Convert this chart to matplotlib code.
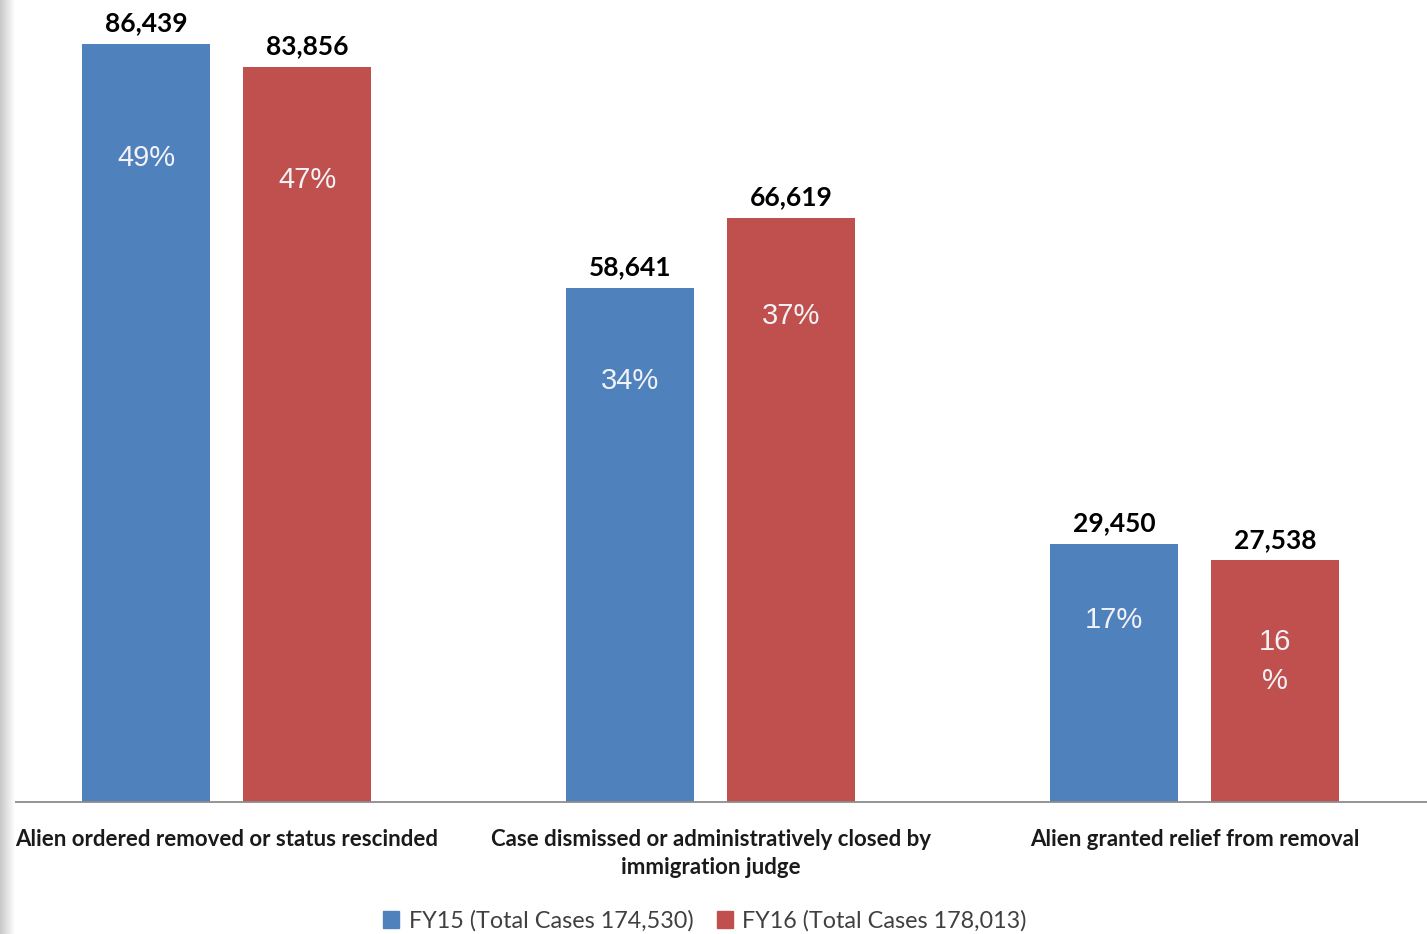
#!/usr/bin/env python3
"""Case outcomes FY15 vs FY16 - grouped bar chart."""
import matplotlib
matplotlib.use("Agg")
import matplotlib.pyplot as plt
import numpy as np
from matplotlib.patches import Patch

categories = [
    "Alien ordered removed or status rescinded",
    "Case dismissed or administratively closed by\nimmigration judge",
    "Alien granted relief from removal",
]
fy15 = [86439, 58641, 29450]
fy16 = [83856, 66619, 27538]
fy15_pct = ["49%", "34%", "17%"]
fy16_pct = ["47%", "37%", "16\n%"]
series_names = ["FY15 (Total Cases 174,530)", "FY16 (Total Cases 178,013)"]

BLUE = "#4F81BD"
RED = "#C0504D"

# inside-label offsets (points below bar top), as in the source
pct_off15 = [82, 67, 55]
pct_off16 = [82, 71, 73]


def main() -> None:
    fig = plt.figure(figsize=(14.27, 9.34), dpi=100)
    ax = fig.add_axes([0, 1 - 802 / 934, 1, 802 / 934])

    x = np.arange(len(categories))
    w = 0.2645
    off = 0.1663
    b15 = ax.bar(x - off, fy15, w, color=BLUE)
    b16 = ax.bar(x + off, fy16, w, color=RED)

    ax.set_xlim(-0.468, 2.480)
    ax.set_ylim(0, 91450)
    ax.set_yticks([])
    ax.set_xticks([])
    for s in ("top", "left", "right"):
        ax.spines[s].set_visible(False)
    ax.spines["bottom"].set_color("#8C8C8C")
    ax.spines["bottom"].set_linewidth(1.3)

    for bars, vals, pcts, offs in ((b15, fy15, fy15_pct, pct_off15),
                                   (b16, fy16, fy16_pct, pct_off16)):
        for b, v, p, o in zip(bars, vals, pcts, offs):
            cx = b.get_x() + b.get_width() / 2
            ax.annotate(f"{v:,}", (cx, v), xytext=(0, 6), textcoords="offset points",
                        ha="center", va="bottom", fontsize=19, fontweight="bold",
                        family="Lato", color="black", annotation_clip=False)
            ax.annotate(p, (cx, v), xytext=(0, -o), textcoords="offset points",
                        ha="center", va="center", fontsize=21, family="Liberation Sans",
                        color="#F2F2F7", linespacing=1.5)

    for xi, c in zip(x, categories):
        ax.text(xi, -0.034, c, transform=ax.get_xaxis_transform(), ha="center", va="top",
                fontsize=16, fontweight="bold", family="Lato", color="#1A1A1A",
                linespacing=1.4)

    handles = [Patch(color=BLUE), Patch(color=RED)]
    leg = fig.legend(handles, series_names, loc="center", bbox_to_anchor=(0.494, 0.014),
                     ncol=2, frameon=False, handlelength=0.7,
                     handleheight=0.7, handletextpad=0.4, columnspacing=1.0,
                     prop={"family": "Lato", "size": 16.8})
    for t in leg.get_texts():
        t.set_color("#404040")

    # grey shadow strip on the left edge of the scan
    sax = fig.add_axes([0, 0, 0.010, 1])
    grad = np.linspace(0.78, 1.0, 64)[None, :]
    sax.imshow(grad, aspect="auto", cmap="gray", vmin=0, vmax=1, extent=(0, 1, 0, 1))
    sax.axis("off")

    fig.savefig("out.png", dpi=100)
    plt.close(fig)


if __name__ == "__main__":
    main()
